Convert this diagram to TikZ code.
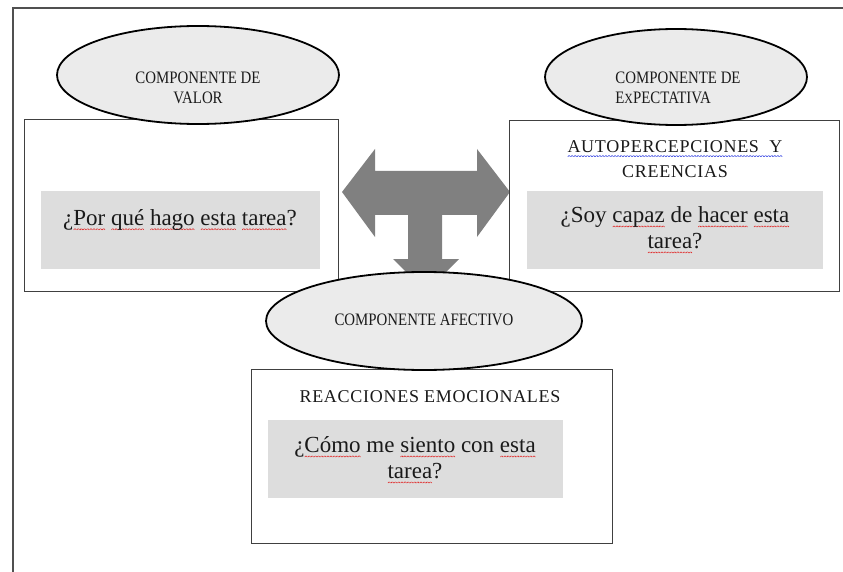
\documentclass[tikz,border=0pt]{standalone}
\usepackage{fontspec}
\setmainfont{Liberation Serif}
\newfontfamily\condfont[FakeStretch=0.85]{Liberation Serif}
\newfontfamily\ttlfont[LetterSpace=4]{Liberation Serif}
\usetikzlibrary{shapes.geometric}
\definecolor{ellfill}{HTML}{EBEBEB}
\definecolor{qfill}{HTML}{DDDDDD}
\definecolor{boxline}{HTML}{404040}
\definecolor{framecol}{HTML}{505050}
\definecolor{arrowgray}{HTML}{808080}
\definecolor{txtcol}{HTML}{1A1A1A}
\definecolor{sqred}{HTML}{E02020}
\definecolor{sqblue}{HTML}{2030E0}
\newsavebox\wordbox
\newcommand\zigzag{\rotatebox{45}{\rule{1.6pt}{0.55pt}}\raisebox{1.13pt}{\rotatebox{-45}{\rule{1.6pt}{0.55pt}}}}
\newcommand\wavesq[2]{\sbox\wordbox{#2}\rlap{\raisebox{-4.5pt}{\textcolor{#1}{\hbox to \wd\wordbox{\xleaders\hbox{\zigzag}\hfill}}}}\usebox\wordbox}
\newcommand\redsq[1]{\wavesq{sqred}{#1}}
\newcommand\bluesq[1]{\wavesq{sqblue}{#1}}
\begin{document}
\begin{tikzpicture}[x=1pt,y=-1pt,
  comp/.style={ellipse, draw=black, line width=1.8pt, fill=ellfill, inner sep=0pt},
  panel/.style={draw=boxline, line width=1.2pt, fill=white, anchor=north west, inner sep=0pt},
  qbox/.style={fill=qfill, draw=none, anchor=north west, inner sep=0pt},
  comptext/.style={font=\condfont\fontsize{17.5}{20}\selectfont, text=txtcol, inner sep=0pt},
  qtext/.style={font=\fontsize{23}{26}\selectfont, text=txtcol, align=center, inner sep=0pt},
  ttext/.style={font=\ttlfont\fontsize{18}{25}\selectfont, text=txtcol, align=center, inner sep=0pt}]
\useasboundingbox (0,0) rectangle (843,572);
% frame
\draw[framecol, line width=1.5pt] (13,572) -- (13,8) -- (843,8);
% central three-way arrow
\path[fill=arrowgray] (342,192) -- (375,149) -- (375,171) -- (477,171) -- (477,149)
  -- (510,192) -- (477,237) -- (477,215) -- (442,215) -- (442,259) -- (459,259)
  -- (426,292) -- (393,259) -- (408,259) -- (408,215) -- (375,215) -- (375,237) -- cycle;
% left panel
\node[panel, minimum width=314pt, minimum height=172pt] (valbox) at (24,119) {};
\node[qbox, minimum width=279pt, minimum height=78pt] (valq) at (41,191) {};
\node[qtext] (valqtxt) at (180,220) {¿\redsq{Por} \redsq{qué} \redsq{hago} \redsq{esta} \redsq{tarea}?};
% right panel
\node[panel, minimum width=330pt, minimum height=171pt] (expbox) at (509,120) {};
\node[ttext] (exptitle) at (675,159) {\bluesq{AUTOPERCEPCIONES\ \ Y}\\CREENCIAS};
\node[qbox, minimum width=296pt, minimum height=78pt] (expq) at (527,191) {};
\node[qtext] (expqtxt) at (675,230) {¿Soy \redsq{capaz} de \redsq{hacer} \redsq{esta}\\\redsq{tarea}?};
% top ellipses
\node[comp, minimum width=282pt, minimum height=98pt] (valell) at (198,75) {};
\node[comptext, align=center] (valtxt) at (198,88) {COMPONENTE DE\\VALOR};
\node[comp, minimum width=262pt, minimum height=96pt] (expell) at (676,77) {};
\node[comptext, align=left] (exptxt) at (678,88) {COMPONENTE DE\\E{\fontsize{14}{20}\selectfont X}PECTATIVA};
% bottom panel
\node[panel, minimum width=361pt, minimum height=174pt] (afbox) at (251,369) {};
\node[ttext] (aftitle) at (430,397) {REACCIONES EMOCIONALES};
\node[qbox, minimum width=295pt, minimum height=78pt] (afq) at (268,420) {};
\node[qtext] (afqtxt) at (415,460) {¿\redsq{Cómo} me \redsq{siento} con \redsq{esta}\\\redsq{tarea}?};
% bottom ellipse
\node[comp, minimum width=316pt, minimum height=98pt] (afell) at (424,321) {};
\node[comptext] (aftxt) at (424,320) {COMPONENTE AFECTIVO};
\end{tikzpicture}
\end{document}
